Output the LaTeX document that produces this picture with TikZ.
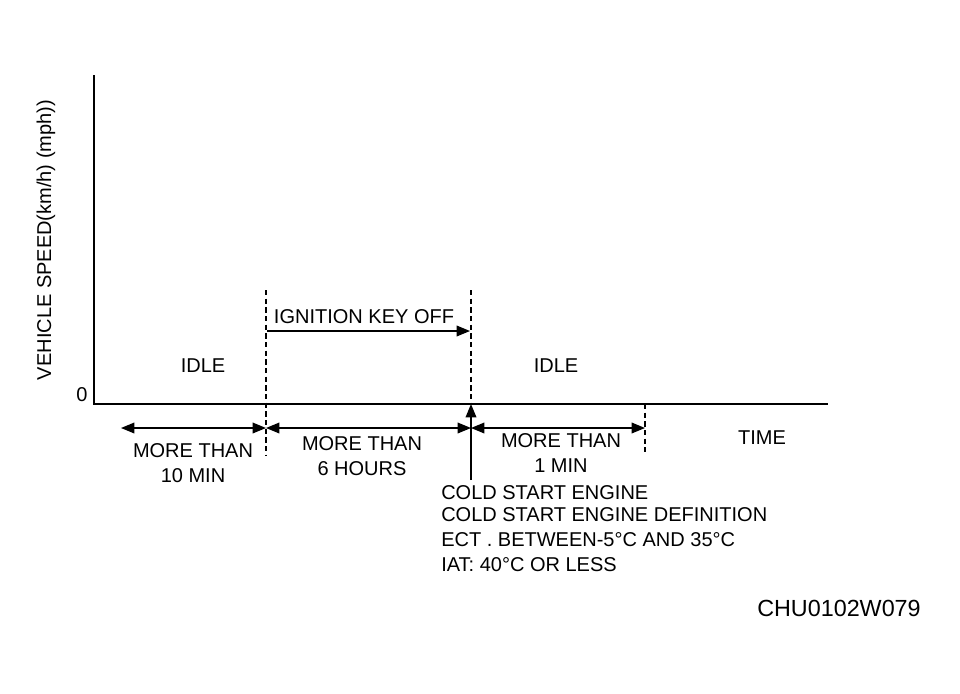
\documentclass[tikz,border=0pt]{standalone}
\usepackage{fontspec}
\setmainfont{Liberation Sans}
\usetikzlibrary{arrows.meta}
\begin{document}
\begin{tikzpicture}[x=0.75pt,y=-0.75pt,
  lbl/.style={font=\fontsize{15}{18.75}\selectfont, inner sep=0pt},
  axis/.style={line width=1.1pt},
  guide/.style={dashed, dash pattern=on 4pt off 2.5pt, line width=0.8pt},
  dim/.style={line width=1pt, {Triangle[length=10pt,width=8pt]}-{Triangle[length=10pt,width=8pt]}},
  arr/.style={line width=1pt, -{Triangle[length=10pt,width=8pt]}}]
\useasboundingbox (0,0) rectangle (960,693);
% axes
\coordinate (ytop) at (94,75);
\coordinate (org) at (94,404);
\coordinate (xend) at (828,404);
\draw[axis] (ytop) -- (org) -- (xend);
\node[lbl] (zero) at (82,395) {0};
\node[lbl, rotate=90] (ylab) at (46,240) {VEHICLE SPEED(km/h) (mph))};
% guide lines
\coordinate (g1t) at (266,290); \coordinate (g1b) at (266,455);
\coordinate (g2t) at (471,290); \coordinate (g2b) at (471,404);
\coordinate (g3t) at (645,404); \coordinate (g3b) at (645,452);
\draw[guide] (g1t) -- (g1b);
\draw[guide] (g2t) -- (g2b);
\draw[guide] (g3t) -- (g3b);
% ignition key off
\node[lbl] (ign) at (364,317) {IGNITION KEY OFF};
\coordinate (ia) at (267,331); \coordinate (ib) at (470,331);
\draw[arr] (ia) -- (ib);
\node[lbl] (idle1) at (203,366) {IDLE};
\node[lbl] (idle2) at (556,366) {IDLE};
% dimension arrows
\coordinate (d0) at (121,428); \coordinate (d1) at (266,428);
\coordinate (d2) at (471,428); \coordinate (d3) at (645,428);
\draw[dim] (d0) -- (d1);
\draw[dim] (d1) -- (d2);
\draw[dim] (d2) -- (d3);
\node[lbl, align=center] (m10) at (193,463) {MORE THAN\\10 MIN};
\node[lbl, align=center] (m6) at (362,456) {MORE THAN\\6 HOURS};
\node[lbl, align=center] (m1) at (561,453) {MORE THAN\\1 MIN};
\node[lbl] (time) at (762,438) {TIME};
% cold start arrow
\coordinate (cs) at (471,480);
\draw[arr] (cs) -- (org -| cs);
\node[lbl, anchor=base west] (cold1) at (441,499) {COLD START ENGINE};
\node[lbl, anchor=base west] (cold2) at (441,521) {COLD START ENGINE DEFINITION};
\node[lbl, anchor=base west] (cold3) at (441,546) {ECT . BETWEEN-5°C AND 35°C};
\node[lbl, anchor=base west] (cold4) at (441,571) {IAT: 40°C OR LESS};
\node[font=\fontsize{17.5}{20}\selectfont, inner sep=0pt] (code) at (839,608) {CHU0102W079};
\end{tikzpicture}
\end{document}
